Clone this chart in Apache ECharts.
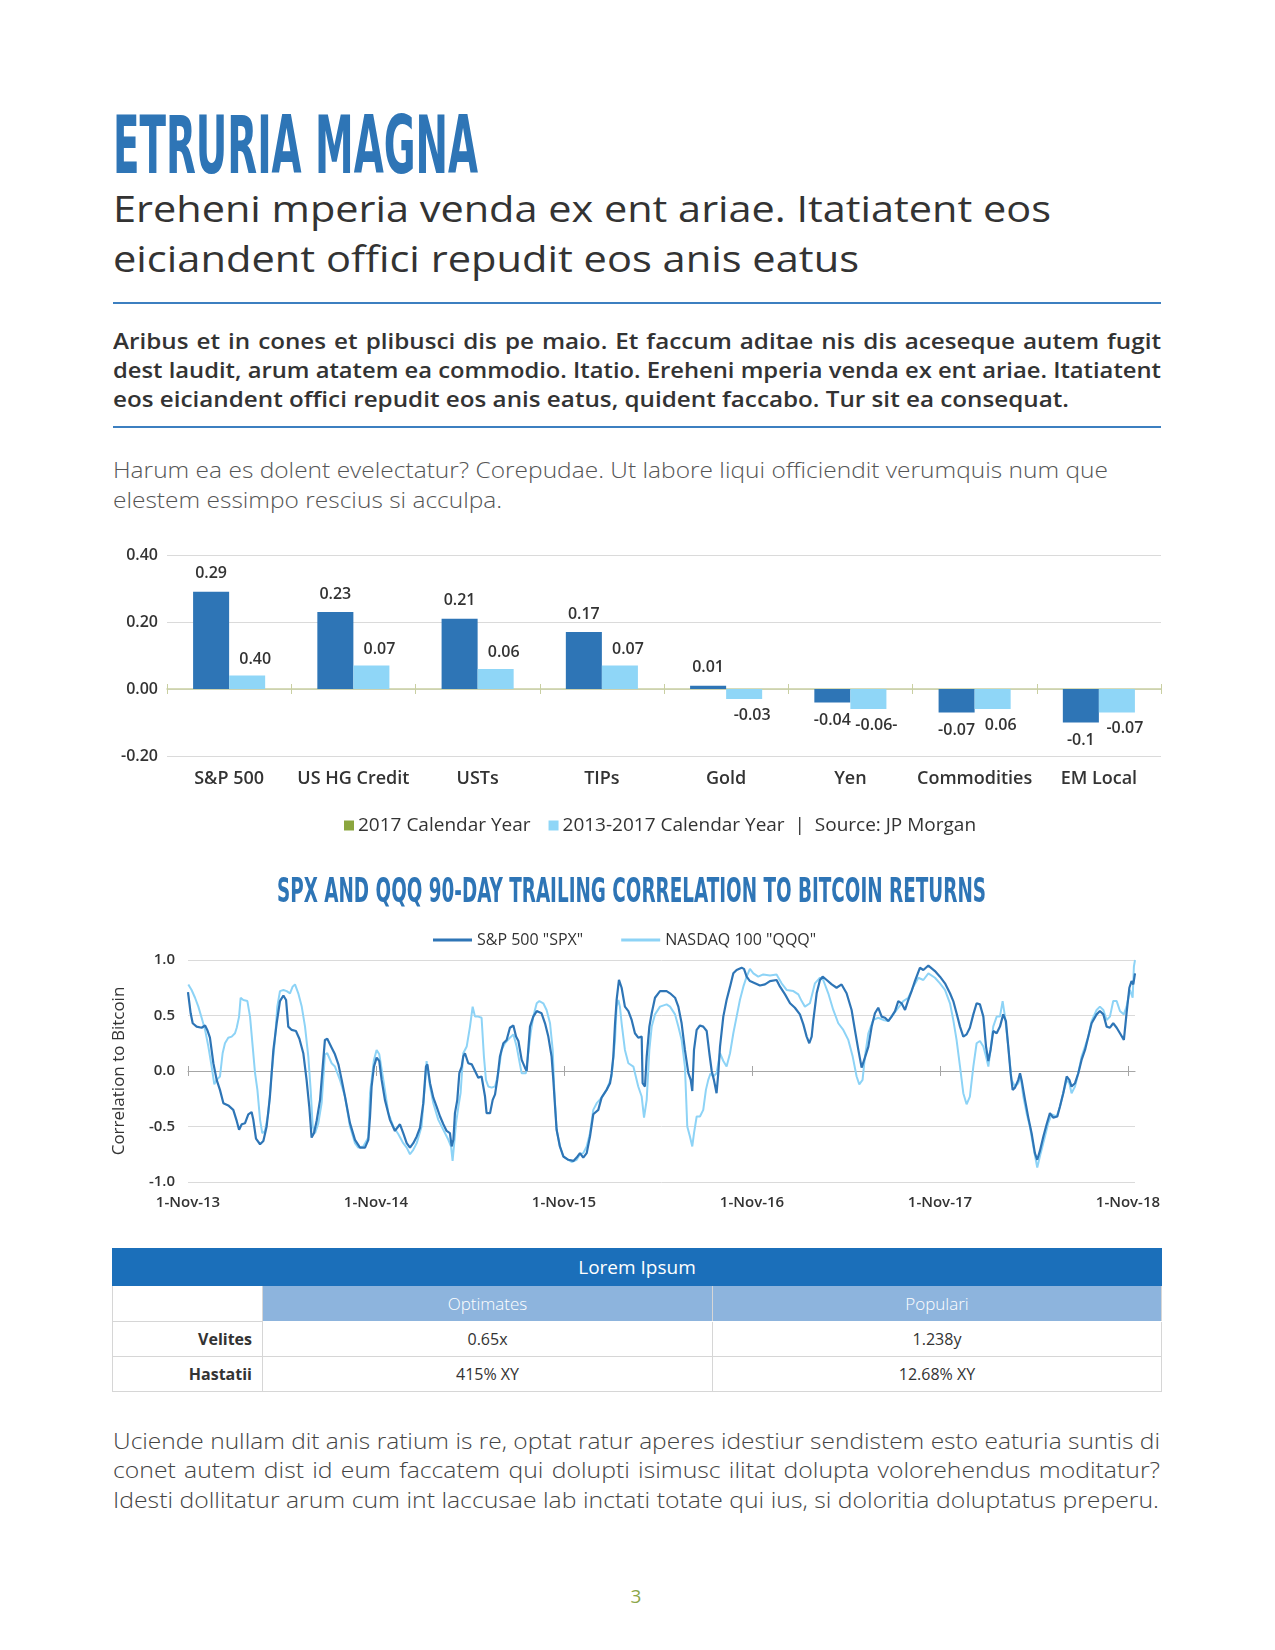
<!DOCTYPE html>
<html>
<head>
<meta charset="utf-8">
<script src="https://cdn.jsdelivr.net/npm/echarts@6/dist/echarts.min.js"></script>
<style>
html,body{margin:0;padding:0;background:#fff;}
body{width:1275px;height:1650px;position:relative;overflow:hidden;font-family:'Open Sans',Lato,sans-serif;color:#333;}
.rule{position:absolute;left:113px;width:1048px;height:2px;background:#3C7FC0;}
.chart{position:absolute;left:0;width:1275px;}
#tbl{position:absolute;left:112px;top:1248px;width:1049px;border-collapse:collapse;font-family:'Open Sans',Lato,sans-serif;table-layout:fixed;}
#tbl td,#tbl th{padding:0;border:1px solid #d6d6d6;text-align:center;}
#tbl th{background:#1B6FBA;color:#fff;font-weight:400;font-size:19px;height:36px;border-color:#1B6FBA;}
#tbl .sub{background:#8DB4DD;color:#fff;font-size:17px;height:35px;border-color:#fff #d6d6d6;font-weight:300;}
#tbl .rh{text-align:right;padding-right:10px;font-weight:700;font-size:17px;color:#333;}
#tbl .val{font-size:16px;color:#333;height:34px;}
</style>
</head>
<body>
<div class="rule" style="top:302px;"></div>
<div class="rule" style="top:426px;"></div>
<div id="bar" class="chart" style="top:520px;height:330px;"></div>
<div id="line" class="chart" style="top:860px;height:360px;"></div>
<table id="tbl">
<colgroup><col style="width:150px"><col style="width:450px"><col style="width:449px"></colgroup>
<tr><th colspan="3">Lorem Ipsum</th></tr>
<tr><td class="val" style="height:35px;"></td><td class="sub">Optimates</td><td class="sub">Populari</td></tr>
<tr><td class="rh val">Velites</td><td class="val">0.65x</td><td class="val">1.238y</td></tr>
<tr><td class="rh val">Hastatii</td><td class="val">415% XY</td><td class="val">12.68% XY</td></tr>
</table>
<script>
// ---------------- DATA ----------------
const barCategories = ['S&P 500','US HG Credit','USTs','TIPs','Gold','Yen','Commodities','EM Local'];
const bar2017 = [0.29, 0.23, 0.21, 0.17, 0.01, -0.04, -0.07, -0.10];
const bar2013to2017 = [0.04, 0.07, 0.06, 0.07, -0.03, -0.06, -0.06, -0.07];
const bar2017Labels = ['0.29','0.23','0.21','0.17','0.01','-0.04','-0.07','-0.1'];
const bar2013to2017Labels = ['0.40','0.07','0.06','0.07','-0.03','-0.06-','0.06','-0.07'];
const barSeriesNames = ['2017 Calendar Year','2013-2017 Calendar Year'];

const lineTickMonths = [0, 12, 24, 36, 48, 60];
const lineTickLabels = ['1-Nov-13','1-Nov-14','1-Nov-15','1-Nov-16','1-Nov-17','1-Nov-18'];
const lineSeriesNames = ['S&P 500 "SPX"','NASDAQ 100 "QQQ"'];

// months since 1-Nov-13
const spxMonths = [0.00,0.17,0.30,0.55,0.87,1.09,1.23,1.40,1.62,1.83,2.04,2.26,2.57,2.89,3.11,3.26,3.43,3.64,3.85,4.06,4.17,4.34,4.60,4.81,5.02,5.23,5.45,5.66,5.87,6.09,6.26,6.40,6.62,6.89,7.11,7.36,7.57,7.74,7.89,8.04,8.21,8.43,8.60,8.74,8.89,9.17,9.38,9.60,9.81,10.02,10.34,10.66,10.98,11.30,11.51,11.62,11.72,11.87,12.04,12.21,12.36,12.57,12.89,13.21,13.53,13.74,13.96,14.17,14.38,14.60,14.81,15.02,15.19,15.28,15.45,15.66,15.87,16.09,16.30,16.51,16.72,16.83,16.94,17.04,17.19,17.32,17.47,17.57,17.68,17.89,18.11,18.32,18.53,18.74,18.96,19.06,19.28,19.45,19.60,19.74,19.91,20.13,20.34,20.55,20.77,20.94,21.09,21.30,21.51,21.62,21.72,21.83,22.04,22.26,22.57,22.79,23.00,23.21,23.32,23.43,23.53,23.74,23.96,24.28,24.60,24.81,25.02,25.23,25.45,25.66,25.87,26.19,26.40,26.72,26.94,27.04,27.15,27.26,27.36,27.51,27.68,27.89,28.11,28.32,28.53,28.74,28.96,29.02,29.17,29.28,29.45,29.60,29.81,30.13,30.55,30.77,31.09,31.30,31.51,31.72,31.94,32.09,32.19,32.30,32.47,32.68,32.89,33.11,33.28,33.43,33.57,33.74,33.85,33.96,34.17,34.38,34.60,34.81,35.02,35.34,35.49,35.66,35.87,36.19,36.51,36.83,37.15,37.57,37.79,38.11,38.43,38.74,39.06,39.28,39.49,39.66,39.81,39.91,40.13,40.34,40.51,40.77,41.09,41.40,41.72,42.04,42.36,42.57,42.79,43.00,43.21,43.43,43.64,43.85,44.06,44.28,44.49,44.70,44.91,45.13,45.34,45.55,45.77,45.98,46.19,46.40,46.72,46.94,47.26,47.68,48.00,48.32,48.64,48.85,49.06,49.28,49.49,49.70,49.91,50.13,50.34,50.55,50.77,50.94,51.09,51.23,51.40,51.62,51.83,52.04,52.21,52.36,52.51,52.64,52.79,53.00,53.11,53.21,53.43,53.64,53.85,54.06,54.21,54.38,54.60,54.81,55.02,55.23,55.49,55.66,55.87,56.09,56.26,56.40,56.62,56.83,57.04,57.26,57.47,57.68,58.00,58.21,58.43,58.64,58.85,59.06,59.28,59.49,59.74,59.91,60.09,60.23,60.34,60.45];
const spxValues = [0.71,0.52,0.43,0.40,0.39,0.41,0.37,0.30,0.07,-0.08,-0.17,-0.29,-0.31,-0.35,-0.45,-0.53,-0.48,-0.47,-0.39,-0.37,-0.44,-0.61,-0.66,-0.63,-0.50,-0.23,0.19,0.43,0.63,0.68,0.64,0.40,0.37,0.36,0.29,0.16,-0.08,-0.32,-0.60,-0.56,-0.45,-0.26,0.04,0.28,0.29,0.21,0.15,0.06,-0.08,-0.23,-0.47,-0.62,-0.69,-0.69,-0.62,-0.41,-0.14,0.04,0.12,0.09,-0.08,-0.26,-0.44,-0.54,-0.48,-0.56,-0.65,-0.69,-0.65,-0.59,-0.51,-0.29,0.04,0.06,-0.11,-0.24,-0.32,-0.41,-0.48,-0.54,-0.56,-0.68,-0.62,-0.38,-0.26,-0.02,0.04,0.13,0.16,0.07,0.06,0.00,-0.06,-0.05,-0.23,-0.38,-0.38,-0.26,-0.21,-0.08,0.13,0.25,0.28,0.39,0.41,0.31,0.27,0.10,0.03,0.00,0.19,0.40,0.49,0.54,0.52,0.43,0.31,0.13,-0.08,-0.32,-0.53,-0.68,-0.77,-0.80,-0.81,-0.78,-0.74,-0.78,-0.74,-0.59,-0.39,-0.35,-0.24,-0.17,-0.11,-0.02,0.13,0.43,0.64,0.82,0.75,0.58,0.54,0.46,0.34,0.30,0.31,-0.11,-0.14,0.13,0.40,0.52,0.66,0.72,0.72,0.70,0.66,0.58,0.43,0.19,-0.02,-0.08,-0.18,0.19,0.37,0.41,0.40,0.36,0.16,0.00,-0.08,-0.20,-0.02,0.22,0.49,0.64,0.76,0.88,0.91,0.93,0.92,0.85,0.81,0.79,0.77,0.78,0.81,0.82,0.76,0.69,0.61,0.57,0.51,0.42,0.31,0.25,0.31,0.45,0.70,0.82,0.85,0.82,0.78,0.75,0.78,0.70,0.55,0.37,0.19,0.03,0.12,0.22,0.40,0.52,0.57,0.49,0.48,0.45,0.49,0.54,0.63,0.61,0.55,0.64,0.72,0.81,0.93,0.91,0.95,0.90,0.85,0.79,0.70,0.63,0.52,0.40,0.31,0.33,0.39,0.51,0.61,0.60,0.49,0.22,0.09,0.19,0.36,0.34,0.40,0.51,0.45,0.22,-0.02,-0.17,-0.15,-0.08,-0.02,-0.08,-0.26,-0.42,-0.56,-0.74,-0.80,-0.72,-0.59,-0.48,-0.38,-0.42,-0.41,-0.32,-0.20,-0.05,-0.08,-0.14,-0.11,-0.02,0.10,0.19,0.31,0.43,0.51,0.54,0.51,0.40,0.39,0.43,0.39,0.34,0.28,0.52,0.75,0.81,0.78,0.88];

const qqqMonths = [0.02,0.23,0.45,0.66,0.87,1.09,1.30,1.51,1.68,1.83,2.04,2.21,2.36,2.57,2.79,3.00,3.11,3.26,3.36,3.53,3.79,3.96,4.13,4.28,4.43,4.60,4.74,4.91,5.13,5.34,5.55,5.70,5.87,6.09,6.30,6.51,6.68,6.83,7.04,7.26,7.47,7.68,7.83,7.96,8.11,8.32,8.53,8.74,8.89,9.17,9.38,9.70,10.02,10.34,10.66,10.87,11.19,11.51,11.62,11.72,11.87,12.04,12.21,12.47,12.79,13.11,13.43,13.74,13.96,14.17,14.38,14.60,14.91,15.13,15.23,15.45,15.66,15.98,16.30,16.62,16.79,16.89,17.00,17.11,17.26,17.40,17.57,17.79,18.00,18.17,18.32,18.53,18.74,18.89,19.02,19.17,19.38,19.60,19.81,20.02,20.23,20.55,20.77,20.98,21.19,21.30,21.57,21.72,21.87,22.04,22.26,22.43,22.68,22.89,23.11,23.28,23.38,23.53,23.74,23.96,24.28,24.49,24.81,25.02,25.23,25.45,25.66,25.87,26.09,26.40,26.72,27.04,27.26,27.36,27.47,27.57,27.68,27.89,28.11,28.43,28.74,28.96,29.11,29.28,29.45,29.60,29.81,30.13,30.55,30.77,31.09,31.30,31.51,31.72,31.87,32.04,32.19,32.30,32.47,32.68,32.89,33.06,33.21,33.36,33.53,33.74,33.96,34.17,34.38,34.60,34.81,35.02,35.23,35.45,35.66,35.87,36.09,36.40,36.72,37.15,37.57,37.89,38.21,38.64,38.96,39.17,39.38,39.70,40.02,40.34,40.55,40.87,41.19,41.51,41.83,42.15,42.43,42.68,42.85,43.06,43.21,43.43,43.74,44.06,44.38,44.70,45.02,45.34,45.66,45.98,46.30,46.62,46.94,47.26,47.68,48.00,48.32,48.64,48.85,49.06,49.28,49.49,49.70,49.91,50.13,50.34,50.55,50.77,50.94,51.09,51.23,51.40,51.62,51.83,52.00,52.15,52.36,52.57,52.79,53.00,53.15,53.32,53.53,53.74,53.96,54.21,54.43,54.70,54.91,55.13,55.45,55.66,55.87,56.09,56.26,56.40,56.62,56.83,57.04,57.26,57.47,57.68,58.00,58.21,58.43,58.64,58.85,59.06,59.28,59.49,59.74,59.91,60.13,60.30,60.38,60.45];
const qqqValues = [0.78,0.73,0.66,0.58,0.48,0.37,0.22,0.04,-0.12,-0.08,-0.05,0.16,0.25,0.30,0.31,0.34,0.39,0.49,0.66,0.64,0.63,0.49,0.22,-0.02,-0.17,-0.44,-0.56,-0.54,-0.38,-0.02,0.28,0.58,0.72,0.73,0.72,0.70,0.76,0.78,0.70,0.58,0.40,0.13,-0.17,-0.50,-0.56,-0.47,-0.29,0.15,0.16,0.07,0.04,-0.08,-0.23,-0.50,-0.65,-0.69,-0.68,-0.60,-0.20,-0.08,0.10,0.19,0.15,-0.08,-0.38,-0.50,-0.57,-0.65,-0.69,-0.75,-0.71,-0.65,-0.50,-0.11,0.09,-0.14,-0.29,-0.44,-0.53,-0.62,-0.68,-0.81,-0.81,-0.47,-0.32,-0.20,0.16,0.22,0.40,0.58,0.49,0.49,0.48,0.13,-0.08,-0.14,-0.15,-0.14,-0.02,0.19,0.25,0.30,0.33,0.22,0.06,-0.02,-0.02,0.16,0.34,0.49,0.61,0.63,0.61,0.55,0.43,0.19,-0.17,-0.53,-0.68,-0.77,-0.80,-0.82,-0.80,-0.75,-0.74,-0.68,-0.56,-0.35,-0.29,-0.24,-0.17,-0.05,0.28,0.58,0.64,0.58,0.43,0.19,0.07,0.04,-0.14,-0.23,-0.42,-0.26,0.19,0.40,0.51,0.58,0.60,0.58,0.51,0.40,0.28,0.04,-0.50,-0.59,-0.68,-0.56,-0.41,-0.41,-0.35,-0.17,-0.08,-0.02,-0.05,-0.02,0.16,0.09,0.04,0.16,0.34,0.49,0.64,0.76,0.85,0.92,0.88,0.85,0.87,0.86,0.87,0.79,0.73,0.72,0.69,0.63,0.58,0.61,0.79,0.84,0.82,0.70,0.55,0.43,0.37,0.28,0.13,-0.05,-0.12,-0.08,0.13,0.34,0.46,0.48,0.46,0.45,0.51,0.57,0.63,0.66,0.76,0.84,0.82,0.88,0.84,0.79,0.73,0.61,0.46,0.28,0.04,-0.20,-0.30,-0.23,0.04,0.25,0.27,0.22,0.13,0.04,0.19,0.40,0.49,0.49,0.63,0.49,0.22,-0.08,-0.14,-0.11,-0.05,-0.23,-0.38,-0.50,-0.68,-0.87,-0.74,-0.59,-0.47,-0.39,-0.41,-0.32,-0.20,-0.08,-0.11,-0.20,-0.14,-0.02,0.13,0.22,0.31,0.45,0.55,0.58,0.55,0.46,0.49,0.63,0.63,0.54,0.51,0.58,0.73,0.66,0.94,1.00];

// ---------------- TEXT ----------------
const FONT = "'Open Sans', Lato, sans-serif";
const COND = "'Liberation Sans Narrow','DejaVu Sans Condensed','Arial Narrow',sans-serif";

// Places one line of real text; horizontal fit is done with a scaleX stretch (and word spacing for justified lines).
function addLine(o){
  const d = document.createElement('div');
  d.textContent = o.text;
  Object.assign(d.style, {position:'absolute', left:o.x+'px', top:'0px', whiteSpace:'nowrap',
    fontFamily:o.family||FONT, fontSize:o.size+'px', fontWeight:String(o.weight||400),
    color:o.color||'#333', lineHeight:'1.2', zIndex:5, transformOrigin:'0 0'});
  document.body.appendChild(d);
  const spaces = (o.text.match(/ /g)||[]).length;
  const w0 = d.getBoundingClientRect().width;
  let s = 1;
  if (o.fit){ s = o.fit / w0; }
  else if (o.scale){ s = o.scale; }
  if (o.justify){
    if (!o.scale) s = Math.min(1.25, o.justify / w0);
    const need = o.justify / s - w0;
    if (need >= 0) d.style.wordSpacing = (need / spaces) + 'px';
    else s = o.justify / w0;
  }
  d.style.transform = 'scaleX(' + s + ')';
  if (o.center != null){
    d.style.left = (o.center - w0*s/2) + 'px';
  }
  const sp = document.createElement('span');
  sp.style.cssText = 'display:inline-block;width:0;height:0;vertical-align:baseline';
  d.appendChild(sp);
  const b = sp.offsetTop;
  d.removeChild(sp);
  d.style.top = (o.baseline - b) + 'px';
  return s;
}

addLine({text:'ETRURIA MAGNA', x:113, baseline:173, size:80, weight:700, family:COND, color:'#2E75B6', fit:365});
addLine({text:'Ereheni mperia venda ex ent ariae. Itatiatent eos', x:113, baseline:222, size:36, weight:500, color:'#333', fit:938});
addLine({text:'eiciandent offici repudit eos anis eatus', x:113, baseline:272, size:36, weight:500, color:'#333', fit:746});

const sB = addLine({text:'eos eiciandent offici repudit eos anis eatus, quident faccabo. Tur sit ea consequat.', x:113, baseline:407, size:21, weight:600, color:'#333', fit:956});
addLine({text:'Aribus et in cones et plibusci dis pe maio. Et faccum aditae nis dis aceseque autem fugit', x:113, baseline:349, size:21, weight:600, color:'#333', scale:sB, justify:1048});
addLine({text:'dest laudit, arum atatem ea commodio. Itatio. Ereheni mperia venda ex ent ariae. Itatiatent', x:113, baseline:378, size:21, weight:600, color:'#333', scale:sB, justify:1048});

const sL = addLine({text:'Harum ea es dolent evelectatur? Corepudae. Ut labore liqui officiendit verumquis num que', x:113, baseline:478, size:22, weight:300, color:'#555', fit:995});
addLine({text:'elestem essimpo rescius si acculpa.', x:113, baseline:508, size:22, weight:300, color:'#555', scale:sL});

addLine({text:'SPX AND QQQ 90-DAY TRAILING CORRELATION TO BITCOIN RETURNS', x:277, baseline:902, size:34, weight:700, family:COND, color:'#2E75B6', fit:709});

const sF = addLine({text:'Idesti dollitatur arum cum int laccusae lab inctati totate qui ius, si doloritia doluptatus preperu.', x:113, baseline:1508, size:22, weight:300, color:'#444', fit:1046});
addLine({text:'Uciende nullam dit anis ratium is re, optat ratur aperes idestiur sendistem esto eaturia suntis di', x:113, baseline:1449, size:22, weight:300, color:'#444', scale:sF, justify:1047});
addLine({text:'conet autem dist id eum faccatem qui dolupti isimusc ilitat dolupta volorehendus moditatur?', x:113, baseline:1478, size:22, weight:300, color:'#444', scale:sF, justify:1047});

addLine({text:'3', x:630, center:636, baseline:1603, size:19, weight:400, color:'#8BA64A'});

// ---------------- BAR CHART ----------------
const barChart = echarts.init(document.getElementById('bar'), null, {renderer:'canvas'});
const axisOlive = '#C9CFA2';
function barData(vals, labels){
  return vals.map((v,i)=>({value:v, label:{position: v>=0?'top':'bottom', formatter: labels[i]}}));
}
barChart.setOption({
  animation:false,
  textStyle:{fontFamily:FONT},
  legend:{
    left:339, top:291, icon:'rect', itemWidth:10, itemHeight:10, itemGap:18,
    textStyle:{fontSize:19, fontWeight:500, color:'#333', fontFamily:FONT, padding:[0,0,0,-1]},
    data:[{name:barSeriesNames[0], itemStyle:{color:'#8BA63E'}}, {name:barSeriesNames[1]}],
    formatter:function(n){ return n===barSeriesNames[1] ? n + '  |  Source: JP Morgan' : n; }
  },
  grid:{left:167, right:114, top:35, bottom:94},
  xAxis:[
    {type:'category', data:barCategories, position:'bottom',
      axisLine:{show:false, onZero:false}, axisTick:{show:false},
      axisLabel:{interval:0, fontSize:18, fontWeight:600, color:'#333', margin:14, fontFamily:FONT}},
    {type:'category', data:barCategories, position:'bottom',
      axisLine:{show:true, onZero:true, onZeroAxisIndex:0, lineStyle:{color:axisOlive, width:1.5}},
      axisTick:{show:true, length:5, lineStyle:{color:axisOlive}}, axisLabel:{show:false}},
    {type:'category', data:barCategories, position:'top',
      axisLine:{show:false, onZero:true, onZeroAxisIndex:0},
      axisTick:{show:true, length:5, lineStyle:{color:axisOlive}}, axisLabel:{show:false}}
  ],
  yAxis:{type:'value', min:-0.2, max:0.4, interval:0.2,
    axisLine:{show:false}, axisTick:{show:false},
    splitLine:{lineStyle:{color:'#DADADA', width:1}},
    axisLabel:{formatter:v=>v.toFixed(2), fontSize:16, fontWeight:600, color:'#333', margin:9, fontFamily:FONT}},
  series:[
    {name:barSeriesNames[0], type:'bar', xAxisIndex:0, barGap:'0%', barCategoryGap:'42%',
      itemStyle:{color:'#2E75B6'}, data:barData(bar2017, bar2017Labels),
      label:{show:true, distance:10, fontSize:16, fontWeight:600, color:'#333', fontFamily:FONT}},
    {name:barSeriesNames[1], type:'bar', xAxisIndex:0, barGap:'0%', barCategoryGap:'42%',
      itemStyle:{color:'#8FD6F7'}, data:barData(bar2013to2017, bar2013to2017Labels),
      label:{show:true, distance:8, offset:[8,0], fontSize:16, fontWeight:600, color:'#333', fontFamily:FONT}}
  ]
});

// ---------------- LINE CHART ----------------
const lineChart = echarts.init(document.getElementById('line'), null, {renderer:'canvas'});
const zeroGrey = '#A6A6A6';
lineChart.setOption({
  animation:false,
  textStyle:{fontFamily:FONT},
  legend:{left:428, top:67, icon:'rect', itemWidth:39, itemHeight:3, itemGap:38,
    textStyle:{fontSize:16, color:'#333', fontFamily:FONT, fontWeight:500},
    data:lineSeriesNames},
  grid:{left:188, right:140, top:100, bottom:38},
  xAxis:[
    {type:'value', min:0, max:60.45, position:'bottom',
      axisLine:{show:false, onZero:false}, axisTick:{show:false}, splitLine:{show:false},
      axisLabel:{customValues:lineTickMonths, formatter:v=>lineTickLabels[lineTickMonths.indexOf(Math.round(v))]||'',
        fontSize:15, fontWeight:600, color:'#333', margin:13, fontFamily:FONT}},
    {type:'value', min:0, max:60.45, position:'bottom',
      axisLine:{show:true, onZero:true, onZeroAxisIndex:0, lineStyle:{color:zeroGrey, width:1.2}},
      axisTick:{show:true, customValues:lineTickMonths, length:5, lineStyle:{color:zeroGrey}},
      axisLabel:{show:false}, splitLine:{show:false}},
    {type:'value', min:0, max:60.45, position:'top',
      axisLine:{show:false, onZero:true, onZeroAxisIndex:0},
      axisTick:{show:true, customValues:lineTickMonths, length:5, lineStyle:{color:zeroGrey}},
      axisLabel:{show:false}, splitLine:{show:false}}
  ],
  yAxis:{type:'value', min:-1, max:1, interval:0.5,
    name:'Correlation to Bitcoin', nameLocation:'middle', nameGap:60,
    nameTextStyle:{fontSize:17, color:'#333', fontFamily:FONT},
    axisLine:{show:false}, axisTick:{show:false},
    splitLine:{lineStyle:{color:'#DADADA'}},
    axisLabel:{formatter:v=>v.toFixed(1), fontSize:15, fontWeight:600, color:'#333', margin:13, fontFamily:FONT}},
  series:[
    {name:lineSeriesNames[0], type:'line', xAxisIndex:0, symbol:'none', z:4,
      lineStyle:{width:2.2, color:'#2E75B6'}, itemStyle:{color:'#2E75B6'},
      data:spxMonths.map((m,i)=>[m, spxValues[i]])},
    {name:lineSeriesNames[1], type:'line', xAxisIndex:0, symbol:'none', z:3,
      lineStyle:{width:2, color:'#8DD3F6'}, itemStyle:{color:'#8DD3F6'},
      data:qqqMonths.map((m,i)=>[m, qqqValues[i]])}
  ]
});
</script>
</body>
</html>
